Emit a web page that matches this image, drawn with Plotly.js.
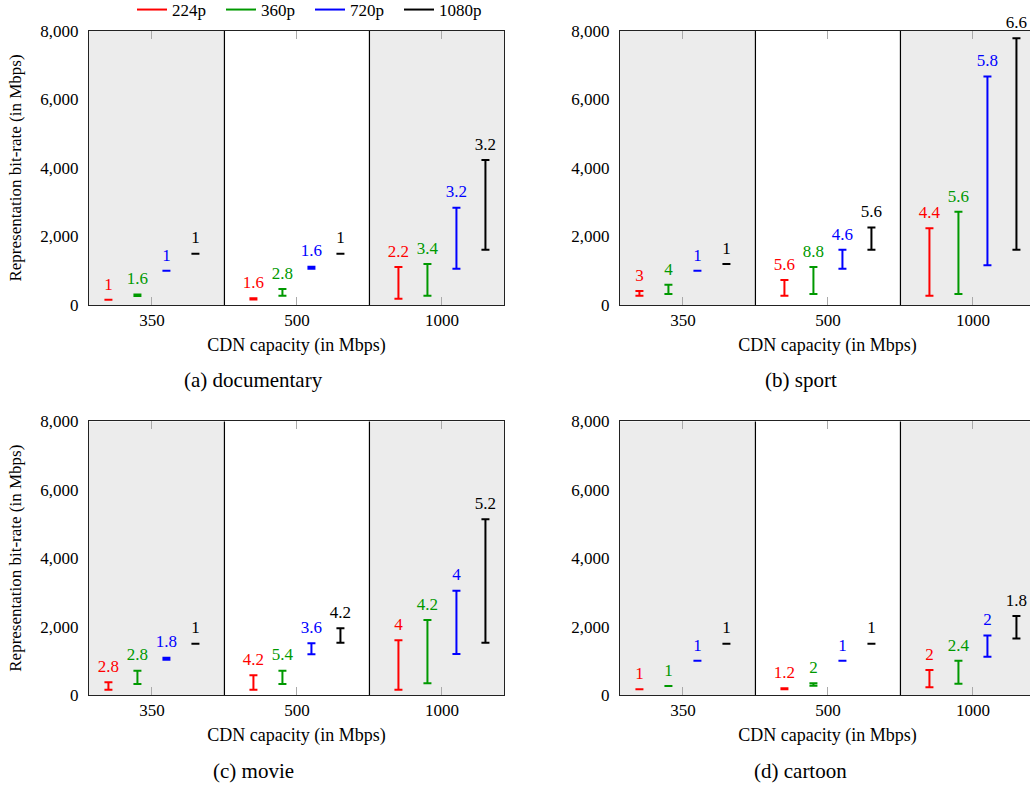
<!DOCTYPE html>
<html>
<head>
<meta charset="utf-8">
<script src="https://cdn.plot.ly/plotly-3.0.1.min.js"></script>
<style>
  html, body { margin: 0; padding: 0; overflow: hidden; background: #fff; }
  #chart { width: 1040px; height: 797px; position: absolute; left: 0; top: -8px; }
</style>
</head>
<body>
<div id="chart"></div>
<script>
// ---- data (rows: 224p, 360p, 720p, 1080p; columns: 350, 500, 1000 Mbps) ----
const capacities = ['350', '500', '1000'];
const resolutions = ['224p', '360p', '720p', '1080p'];
const resolutionColors = ['#ff0000', '#009900', '#0000ff', '#000000'];

const documentaryMin = [[150, 160, 185], [260, 270, 270], [1000, 1060, 1060], [1500, 1500, 1610]];
const documentaryMax = [[150, 200, 1110], [310, 470, 1200], [1000, 1120, 2840], [1500, 1500, 4230]];
const documentaryLabels = [[1, 1.6, 2.2], [1.6, 2.8, 3.4], [1, 1.6, 3.2], [1, 1, 3.2]];

const sportMin = [[270, 270, 270], [320, 320, 320], [1000, 1060, 1160], [1200, 1610, 1610]];
const sportMax = [[410, 730, 2240], [590, 1110, 2720], [1000, 1610, 6670], [1200, 2260, 7790]];
const sportLabels = [[3, 5.6, 4.4], [4, 8.8, 5.6], [1, 4.6, 5.8], [1, 5.6, 6.6]];

const movieMin = [[150, 150, 150], [320, 320, 340], [1030, 1190, 1200], [1500, 1530, 1530]];
const movieMax = [[370, 580, 1600], [710, 710, 2190], [1090, 1510, 3050], [1500, 1950, 5140]];
const movieLabels = [[2.8, 4.2, 4], [2.8, 5.4, 4.2], [1.8, 3.6, 4], [1, 4.2, 5.2]];

const cartoonMin = [[170, 170, 230], [260, 270, 330], [1000, 1000, 1120], [1500, 1500, 1650]];
const cartoonMax = [[170, 200, 730], [260, 340, 1000], [1000, 1000, 1740], [1500, 1500, 2310]];
const cartoonLabels = [[1, 1.2, 2], [1, 2, 2.4], [1, 1, 2], [1, 1, 1.8]];

const panelCaptions = ['(a) documentary', '(b) sport', '(c) movie', '(d) cartoon'];
const yTickValues = [0, 2000, 4000, 6000, 8000];

// ---- layout constants ----
const OFF = 8;
const W = 1040, H = 789 + OFF;
function py(y) { return (H - (y + OFF)) / H; }
const FONT = 'Liberation Serif, Times New Roman, serif';
const offsets = [-0.3, -0.1, 0.1, 0.3];
const xRange = [-0.434, 2.428];

const panels = [
  { min: documentaryMin, max: documentaryMax, labels: documentaryLabels, xa: 'x', ya: 'y' },
  { min: sportMin, max: sportMax, labels: sportLabels, xa: 'x2', ya: 'y2' },
  { min: movieMin, max: movieMax, labels: movieLabels, xa: 'x3', ya: 'y3' },
  { min: cartoonMin, max: cartoonMax, labels: cartoonLabels, xa: 'x4', ya: 'y4' }
];

const traces = [];
panels.forEach(function (p) {
  resolutions.forEach(function (res, r) {
    const xs = capacities.map(function (c, i) { return i + offsets[r]; });
    traces.push({
      type: 'scatter',
      mode: 'markers+text',
      x: xs,
      y: p.max[r],
      text: p.labels[r].map(String),
      textposition: 'top center',
      textfont: { family: FONT, size: 17, color: resolutionColors[r] },
      marker: { size: 8, opacity: 0, color: resolutionColors[r] },
      error_y: {
        type: 'data', symmetric: false, visible: true,
        array: p.max[r].map(function () { return 0; }),
        arrayminus: p.max[r].map(function (v, i) { return v - p.min[r][i]; }),
        color: resolutionColors[r], thickness: 2, width: 4
      },
      cliponaxis: false,
      showlegend: false,
      hoverinfo: 'skip',
      xaxis: p.xa, yaxis: p.ya
    });
  });
});
// legend entries
resolutions.forEach(function (res, r) {
  traces.push({
    type: 'scatter', mode: 'lines', x: [null], y: [null], name: res,
    line: { color: resolutionColors[r], width: 2 },
    xaxis: 'x', yaxis: 'y', showlegend: true
  });
});

const leftDom = [89 / W, 504 / W];
const rightDom = [620 / W, 1035 / W];
const topDom = [py(305), py(31)];
const botDom = [py(695), py(421.4)];

function xAxis(domain, anchor) {
  return {
    domain: domain, anchor: anchor, range: xRange, fixedrange: true,
    tickmode: 'array', tickvals: [0, 1, 2], ticktext: capacities,
    ticks: 'inside', ticklen: 8, tickcolor: '#aaaaaa', tickwidth: 1,
    showline: true, linecolor: '#222', linewidth: 1, mirror: 'ticks',
    showgrid: false, zeroline: false, ticklabelstandoff: 0,
    tickfont: { family: FONT, size: 17, color: '#000' },
    title: { text: 'CDN capacity (in Mbps)', standoff: 8, font: { family: FONT, size: 18, color: '#000' } }
  };
}
function yAxis(domain, anchor, withTitle) {
  const a = {
    domain: domain, anchor: anchor, range: [0, 8000], fixedrange: true,
    tickmode: 'array', tickvals: yTickValues, tickformat: ',',
    ticks: '', showline: true, linecolor: '#222', linewidth: 1, mirror: true,
    showgrid: false, zeroline: false, ticklabelstandoff: 6,
    tickfont: { family: FONT, size: 17, color: '#000' }
  };
  if (withTitle) {
    a.title = { text: 'Representation bit-rate (in Mbps)', standoff: 14, font: { family: FONT, size: 17, color: '#000' } };
  }
  return a;
}

const shapes = [];
['', '2', '3', '4'].forEach(function (s) {
  const xr = 'x' + s, yr = 'y' + s + ' domain';
  shapes.push({ type: 'rect', xref: xr, yref: yr, x0: xRange[0], x1: 0.5, y0: 0, y1: 1, fillcolor: '#ececec', line: { width: 0 }, layer: 'below' });
  shapes.push({ type: 'rect', xref: xr, yref: yr, x0: 1.5, x1: xRange[1], y0: 0, y1: 1, fillcolor: '#ececec', line: { width: 0 }, layer: 'below' });
  shapes.push({ type: 'line', xref: xr, yref: yr, x0: 0.5, x1: 0.5, y0: 0, y1: 1, line: { color: '#000', width: 1.2 }, layer: 'below' });
  shapes.push({ type: 'line', xref: xr, yref: yr, x0: 1.5, x1: 1.5, y0: 0, y1: 1, line: { color: '#000', width: 1.2 }, layer: 'below' });
});

const captionPos = [[253, 380], [801, 380], [253, 771], [800, 771]];
const annotations = panelCaptions.map(function (t, i) {
  return {
    text: t, xref: 'paper', yref: 'paper',
    x: captionPos[i][0] / W, y: py(captionPos[i][1]),
    xanchor: 'center', yanchor: 'middle', showarrow: false,
    font: { family: FONT, size: 21, color: '#000' }
  };
});

const layout = {
  width: W, height: H,
  margin: { l: 0, r: 0, t: 0, b: 0 },
  paper_bgcolor: '#ffffff', plot_bgcolor: 'rgba(0,0,0,0)',
  font: { family: FONT, size: 17, color: '#000' },
  showlegend: true,
  legend: {
    orientation: 'h', x: 132 / W, y: 1, xanchor: 'left', yanchor: 'top',
    entrywidth: 44, entrywidthmode: 'pixels', bgcolor: 'rgba(0,0,0,0)',
    font: { family: FONT, size: 17, color: '#000' }, tracegroupgap: 0
  },
  xaxis: xAxis(leftDom, 'y'), yaxis: yAxis(topDom, 'x', true),
  xaxis2: xAxis(rightDom, 'y2'), yaxis2: yAxis(topDom, 'x2', false),
  xaxis3: xAxis(leftDom, 'y3'), yaxis3: yAxis(botDom, 'x3', true),
  xaxis4: xAxis(rightDom, 'y4'), yaxis4: yAxis(botDom, 'x4', false),
  shapes: shapes,
  annotations: annotations
};

Plotly.newPlot('chart', traces, layout, { staticPlot: true, displayModeBar: false });
</script>
</body>
</html>
